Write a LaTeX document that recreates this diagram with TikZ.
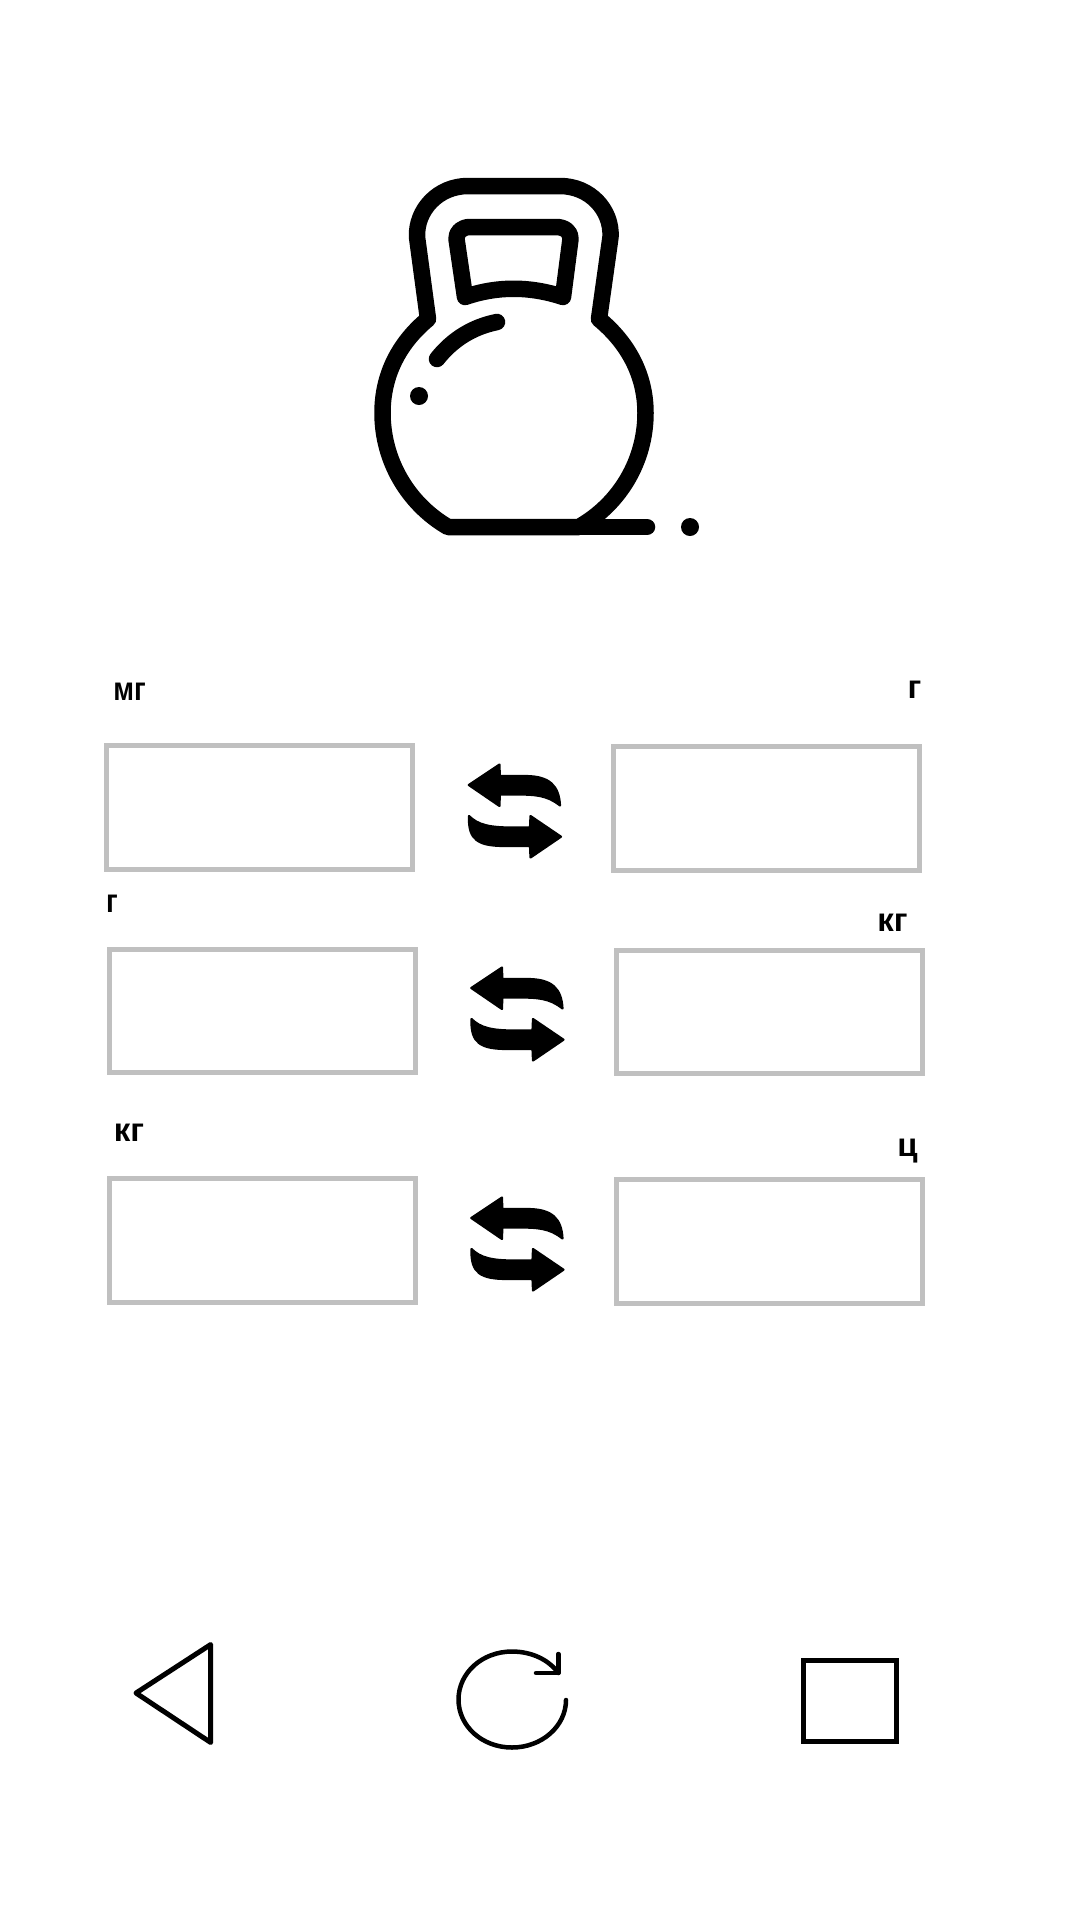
\documentclass[tikz,border=0pt]{standalone}
\usepackage{fontspec}
\setmainfont{Liberation Sans}
\definecolor{boxgray}{HTML}{C0C0C0}
\newcommand{\unittext}[1]{\scalebox{.85}[1]{#1}}
\tikzset{
  inputbox/.style={draw=boxgray,line width=5pt,fill=white},
  unitlabel/.style={font=\bfseries\fontsize{33}{34}\selectfont,anchor=base,inner sep=0pt,text=black},
  bell/.style={draw=black,line width=16.5pt,line join=round,line cap=round},
  navicon/.style={draw=black,line join=round,line cap=round},
  swaparrow/.pic={
    \fill[black,draw=black,line width=2.2pt,line join=round]
      (468.8,785) -- (499.5,764.5) -- (499.8,776) -- (525,776)
      .. controls (550,776) and (559,786) .. (560,805.5)
      .. controls (547,795) and (535,794.5) .. (515,794.5) -- (499.8,794.5) -- (499.5,806) -- cycle;
    \fill[black,draw=black,line width=2.2pt,line join=round]
      (561,836.7) -- (530.5,816) -- (530,827.5) -- (512,827.5)
      .. controls (490,827.5) and (478,825) .. (469,816)
      .. controls (468,840) and (478,846) .. (505,846) -- (530,846) -- (530.5,857.5) -- cycle;
  }
}
\begin{document}
\begin{tikzpicture}[x=1pt,y=-1pt]
\useasboundingbox (0,0) rectangle (1080,1920);
\fill[white] (0,0) rectangle (1080,1920);
% kettlebell
\draw[bell,line cap=butt]
  (468,186) -- (560,186)
  .. controls (590,186) and (612,210) .. (610.5,237)
  -- (599,319)
  .. controls (628,343) and (645.5,375) .. (645.5,413)
  .. controls (645.5,460) and (620.5,503.4) .. (579,527)
  -- (448,527)
  .. controls (407.5,503.4) and (382.5,460) .. (382.5,413)
  .. controls (382.5,375) and (399,343) .. (428,319)
  -- (417,237)
  .. controls (416,210) and (438,186) .. (468,186) -- cycle;
\draw[bell] (579,527) -- (647,527);
\draw[bell]
  (470,227) -- (556,227)
  .. controls (565,227) and (571,232) .. (570.5,239)
  -- (563,297)
  .. controls (530,286) and (497,286) .. (465,297)
  -- (456.5,239)
  .. controls (456,232) and (462,227) .. (470,227) -- cycle;
\draw[bell] (437,359) .. controls (452,340) and (472,327) .. (497,322);
\fill[black] (419,396) circle (9);
\fill[black] (690,527) circle (9);
% boxes
\draw[inputbox] (106.5,745.5) rectangle (412.5,869.5);
\draw[inputbox] (613.5,746) rectangle (919.5,870);
\draw[inputbox] (109,949) rectangle (415,1072);
\draw[inputbox] (616,950) rectangle (922,1073);
\draw[inputbox] (109,1178) rectangle (415,1302);
\draw[inputbox] (616,1179) rectangle (922,1303);
% arrows
\pic at (0,0) {swaparrow};
\pic at (2.5,203) {swaparrow};
\pic at (2.5,433) {swaparrow};
% labels
\node[unitlabel] (mgL) at (129.5,700) {\unittext{мг}};
\node[unitlabel] (gR) at (914.5,698) {г};
\node[unitlabel] (gL) at (112,912) {\unittext{г}};
\node[unitlabel] (kgR) at (892.5,931) {кг};
\node[unitlabel] (kgL) at (129,1141) {кг};
\node[unitlabel] (cR) at (907.5,1156) {ц};
% nav icons
\draw[navicon,line width=5pt] (136,1693) -- (210.7,1644.5) -- (210.7,1742.5) -- cycle;
\draw[navicon,line width=4.5pt] (566,1700)
  .. controls (566,1726) and (542,1747.5) .. (512,1747.5)
  .. controls (482,1747.5) and (458.5,1726) .. (458.5,1699.5)
  .. controls (458.5,1673) and (482,1651.5) .. (512,1651.5)
  .. controls (532,1651.5) and (549,1660) .. (558.3,1673);
\draw[navicon,line width=4.5pt] (558.3,1654) -- (558.3,1673) -- (536,1673);
\draw[navicon,line width=5pt,line join=miter,line cap=butt] (803.5,1660.5) rectangle (896.5,1741.5);
\end{tikzpicture}
\end{document}
